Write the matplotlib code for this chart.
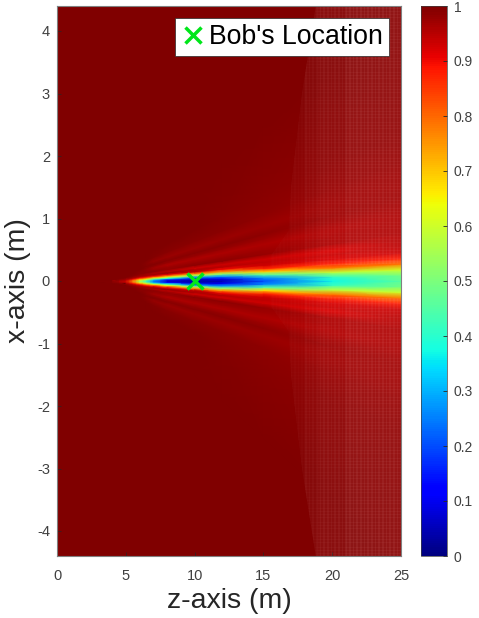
import numpy as np
import matplotlib
matplotlib.use("Agg")
import matplotlib.pyplot as plt
from matplotlib.patches import Polygon

plt.rcParams['font.family'] = ['Liberation Sans', 'DejaVu Sans']
plt.rcParams['axes.unicode_minus'] = False

# beam pattern, upper half only (symmetric about x=0)
# rows are rays x = s * (z - z_fan), the side lobes fan out along them
z_fan = 2.5
z_cols = [0, 2.5, 4, 5, 5.5, 6, 6.5, 7, 8, 10, 12, 15, 20, 25]
s_rows = [0, .004, .008, .012, .016, .02, .024, .028, .034, .04, .047, .054, .06, .07, .085, .11, .2]
gain = [
    [1, 1, .995, .93, .78, .55, .42, .25, .07, .03, .05, .20, .37, .46],
    [1, 1, .995, .94, .80, .60, .47, .30, .14, .07, .10, .26, .42, .49],
    [1, 1, .995, .95, .84, .70, .60, .48, .38, .25, .27, .45, .58, .60],
    [1, 1, .995, .97, .90, .82, .75, .68, .62, .55, .52, .68, .78, .78],
    [1, 1, 1, .98, .95, .90, .87, .85, .80, .78, .75, .87, .88, .88],
    [1, 1, 1, .99, .97, .95, .94, .93, .92, .95, .90, .93, .92, .93],
    [1, 1, 1, .995, .98, .97, .97, .97, .98, .96, .95, .945, .93, .945],
    [1, 1, 1, 1, .99, .98, .97, .96, .95, .93, .93, .93, .92, .95],
    [1, 1, 1, 1, .995, .99, .99, .985, .98, .985, .985, .98, .96, .96],
    [1, 1, 1, 1, 1, .99, .985, .98, .975, .975, .975, .97, .96, .96],
    [1, 1, 1, 1, 1, .995, .985, .97, .96, .96, .96, .96, .955, .96],
    [1, 1, 1, 1, 1, 1, .99, .985, .98, .98, .98, .975, .965, .965],
    [1, 1, 1, 1, 1, 1, .995, .995, .99, .99, .99, .985, .975, .97],
    [1, 1, 1, 1, 1, 1, .99, .98, .975, .975, .975, .975, .97, .97],
    [1, 1, 1, 1, 1, 1, 1, .995, .99, .99, .99, .985, .98, .98],
    [1, 1, 1, 1, 1, 1, 1, 1, 1, 1, .995, .99, .985, .985],
    [1, 1, 1, 1, 1, 1, 1, 1, 1, 1, 1, 1, 1, .995],
]
outer_row = [1, 1, 1, 1, 1, 1, 1, 1, 1, 1, 1, 1, 1, 1]
bob_z = [10]
bob_x = [0]

# where the speckled part of the map starts (the core of the beam is left out),
# and how strong it gets
speckle_z = [18.8, 17.8, 17, 16.8, 15.5, 15.5, 25, 25, 15.5, 15.5, 16.8, 17, 17.8, 18.8, 25, 25]
speckle_x = [4.4, 3, 1.5, .8, .4, .22, .28, -.28, -.22, -.4, -.8, -1.5, -3, -4.4, -4.4, 4.4]
band_start = [15, 17, 18, 19, 21]
band_end = [17, 18, 19, 21, 25]
band_alpha = [.05, .1, .16, .24, .34]

z_ticks = [0, 5, 10, 15, 20, 25]
x_ticks = [-4, -3, -2, -1, 0, 1, 2, 3, 4]
cbar_ticks = [0, .1, .2, .3, .4, .5, .6, .7, .8, .9, 1]
cbar_labels = ['0', '0.1', '0.2', '0.3', '0.4', '0.5', '0.6', '0.7', '0.8', '0.9', '1']

fig = plt.figure(figsize=(4.79, 6.18), dpi=100)
ax = fig.add_axes([57 / 479, 1 - 556 / 618, 344 / 479, 550 / 618])
cax = fig.add_axes([421 / 479, 1 - 556 / 618, 26 / 479, 550 / 618])

# build the fan mesh, then mirror it to the lower half
z = np.array(z_cols)
s = np.array(s_rows)
g = np.vstack([gain, outer_row])
x_up = np.outer(s, np.clip(z - z_fan, 0, None))
x_up = np.vstack([x_up, np.full(len(z), 4.4)])
X = np.vstack([-x_up[:0:-1], x_up])
G = np.vstack([g[:0:-1], g])
Z = np.tile(z, (X.shape[0], 1))
mesh = ax.pcolormesh(Z, X, G, cmap='jet', vmin=0, vmax=1, shading='gouraud')

# thin light grid lines make the speckle on the far side
clip = Polygon(np.column_stack([speckle_z, speckle_x]), transform=ax.transData, fc='none', ec='none')
ax.add_patch(clip)
for z0, z1, a in zip(band_start, band_end, band_alpha):
    vl = ax.vlines(np.arange(z0, z1, 0.1), -4.4, 4.4, color='#ffc0c0', lw=0.3, alpha=a)
    hl = ax.hlines(np.arange(-4.4, 4.4, 0.025), z0, z1, color='#ffc0c0', lw=0.2, alpha=a)
    vl.set_clip_path(clip)
    hl.set_clip_path(clip)

ax.plot(bob_z, bob_x, 'x', color='#00e61a', ms=11, mew=2.5, ls='none', label="Bob's Location")

ax.set_xlim(0, 25)
ax.set_ylim(-4.4, 4.4)
ax.set_xticks(z_ticks)
ax.set_yticks(x_ticks)
ax.set_xlabel('z-axis (m)', fontsize=20.5, color='#262626', labelpad=4)
ax.set_ylabel('x-axis (m)', fontsize=20.5, color='#262626', labelpad=4)
ax.tick_params(direction='in', length=3, width=0.5, labelsize=10.5, colors='#404040', color='#262626')
ax.tick_params(axis='x', pad=9)
ax.tick_params(axis='y', pad=5)
for sp in ax.spines.values():
    sp.set_color('#808080')
    sp.set_linewidth(0.8)

leg = ax.legend(loc='upper right', bbox_to_anchor=(0.965, 0.978), fontsize=19.2, fancybox=False, framealpha=1,
                edgecolor='#262626', handletextpad=0.15, borderaxespad=0, handlelength=0.9, borderpad=0.22)
leg.get_frame().set_linewidth(0.5)

cb = fig.colorbar(mesh, cax=cax, ticks=cbar_ticks)
cb.ax.set_yticklabels(cbar_labels)
cb.ax.tick_params(direction='in', length=3, width=0.6, labelsize=10, colors='#404040', color='#262626', pad=5)
cb.outline.set_edgecolor('#404040')
cb.outline.set_linewidth(0.5)

fig.savefig('out.png', dpi=100)
